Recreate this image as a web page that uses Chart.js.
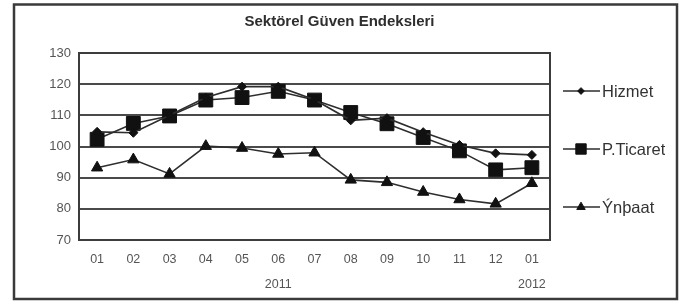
<!DOCTYPE html>
<html>
<head>
<meta charset="utf-8">
<script src="https://cdn.jsdelivr.net/npm/chart.js@4/dist/chart.umd.min.js"></script>
<style>
  html, body { margin: 0; padding: 0; background: #fff; }
  #wrap { width: 685px; height: 302px; }
</style>
</head>
<body>
<div id="wrap"><canvas id="c" width="685" height="302"></canvas></div>
<script>
// ---- data ----
const chartTitle = 'Sektörel Güven Endeksleri';
const months = ['01', '02', '03', '04', '05', '06', '07', '08', '09', '10', '11', '12', '01'];
const years  = ['', '', '', '', '', '2011', '', '', '', '', '', '', '2012'];
const yTicks = [70, 80, 90, 100, 110, 120, 130];
const seriesNames = ['Hizmet', 'P.Ticaret', 'Ýnþaat'];
const hizmet    = [104.7, 104.4, 110.0, 115.7, 119.2, 119.2, 115.0, 108.4, 109.1, 104.6, 100.5, 97.8, 97.3];
const pTicaret  = [102.3, 107.4, 109.8, 114.9, 115.7, 117.7, 114.9, 110.9, 107.3, 102.9, 98.6, 92.5, 93.2];
const insaat    = [93.2, 95.8, 91.2, 100.1, 99.5, 97.6, 98.0, 89.3, 88.5, 85.4, 83.0, 81.6, 88.2];

const FONT = '"Liberation Sans", Arial, sans-serif';
const labels = months.map((m, i) => [m, years[i]]);

const decor = {
  id: 'decor',
  beforeDraw(chart) {
    const c = chart.ctx;
    c.save();
    c.fillStyle = '#fff';
    c.fillRect(0, 0, chart.width, chart.height);
    c.restore();
  },
  beforeDatasetsDraw(chart) {
    const c = chart.ctx, a = chart.chartArea;
    c.save();
    c.strokeStyle = '#3c3c3c';
    c.lineWidth = 2;
    c.strokeRect(a.left, a.top, a.right - a.left, a.bottom - a.top);
    c.restore();
  },
  afterDraw(chart) {
    const c = chart.ctx;
    c.save();
    // outer frame
    c.strokeStyle = '#3a3a3a';
    c.lineWidth = 2.5;
    c.strokeRect(14, 4.5, 663, 294.5);
    // title
    c.fillStyle = '#2e2e2e';
    c.font = 'bold 15px ' + FONT;
    c.textAlign = 'center';
    c.textBaseline = 'middle';
    c.fillText(chartTitle, 339.5, 22);
    // legend (the reference cuts the last letter of the long name)
    const ys = [91, 149, 207];
    c.beginPath();
    c.rect(555, 60, 110, 180);
    c.clip();
    chart.data.datasets.forEach((ds, i) => {
      const y = ys[i];
      c.strokeStyle = ds.borderColor;
      c.lineWidth = ds.borderWidth;
      c.beginPath();
      c.moveTo(563, y);
      c.lineTo(600, y);
      c.stroke();
      c.fillStyle = ds.pointBackgroundColor;
      c.strokeStyle = ds.pointBorderColor;
      c.lineWidth = 1;
      Chart.helpers.drawPoint(c, { pointStyle: ds.pointStyle, radius: ds.pointRadius * 0.75, rotation: 0, borderWidth: 1 }, 581, y);
      c.fillStyle = '#333';
      c.font = '16.5px ' + FONT;
      c.textAlign = 'left';
      c.textBaseline = 'middle';
      c.fillText(ds.label, 602, y + 1);
    });
    c.restore();
  }
};

const lineColor = '#2e2e2e';
function ds(label, data, style, r) {
  return {
    label, data,
    borderColor: lineColor, borderWidth: 1.6,
    pointStyle: style, pointRadius: r, pointHoverRadius: r,
    pointBackgroundColor: '#111', pointBorderColor: '#111', pointBorderWidth: 1,
    tension: 0, fill: false
  };
}

new Chart(document.getElementById('c'), {
  type: 'line',
  data: {
    labels,
    datasets: [
      ds(seriesNames[0], hizmet, 'rectRot', 4.5),
      ds(seriesNames[1], pTicaret, 'rect', 9.8),
      ds(seriesNames[2], insaat, 'triangle', 6.5)
    ]
  },
  options: {
    responsive: false,
    animation: false,
    events: [],
    layout: { padding: { left: 0, top: 53, right: 135, bottom: 0 } },
    plugins: { legend: { display: false }, title: { display: false }, tooltip: { enabled: false } },
    scales: {
      x: {
        offset: true,
        grid: { display: false, drawTicks: false },
        border: { display: false },
        ticks: {
          color: '#555', padding: 7.5, maxRotation: 0, autoSkip: false,
          font: { family: FONT, size: 12.5, lineHeight: 1.96 }
        },
        afterFit(s) { s.height = 62; }
      },
      y: {
        min: 70, max: 130,
        afterBuildTicks(s) { s.ticks = yTicks.map(v => ({ value: v })); },
        grid: { color: '#4a4a4a', lineWidth: 2, drawTicks: false },
        border: { display: false },
        ticks: { color: '#555', padding: 8, font: { family: FONT, size: 13 } },
        afterFit(s) { s.width = 79; }
      }
    }
  },
  plugins: [decor]
});
</script>
</body>
</html>
